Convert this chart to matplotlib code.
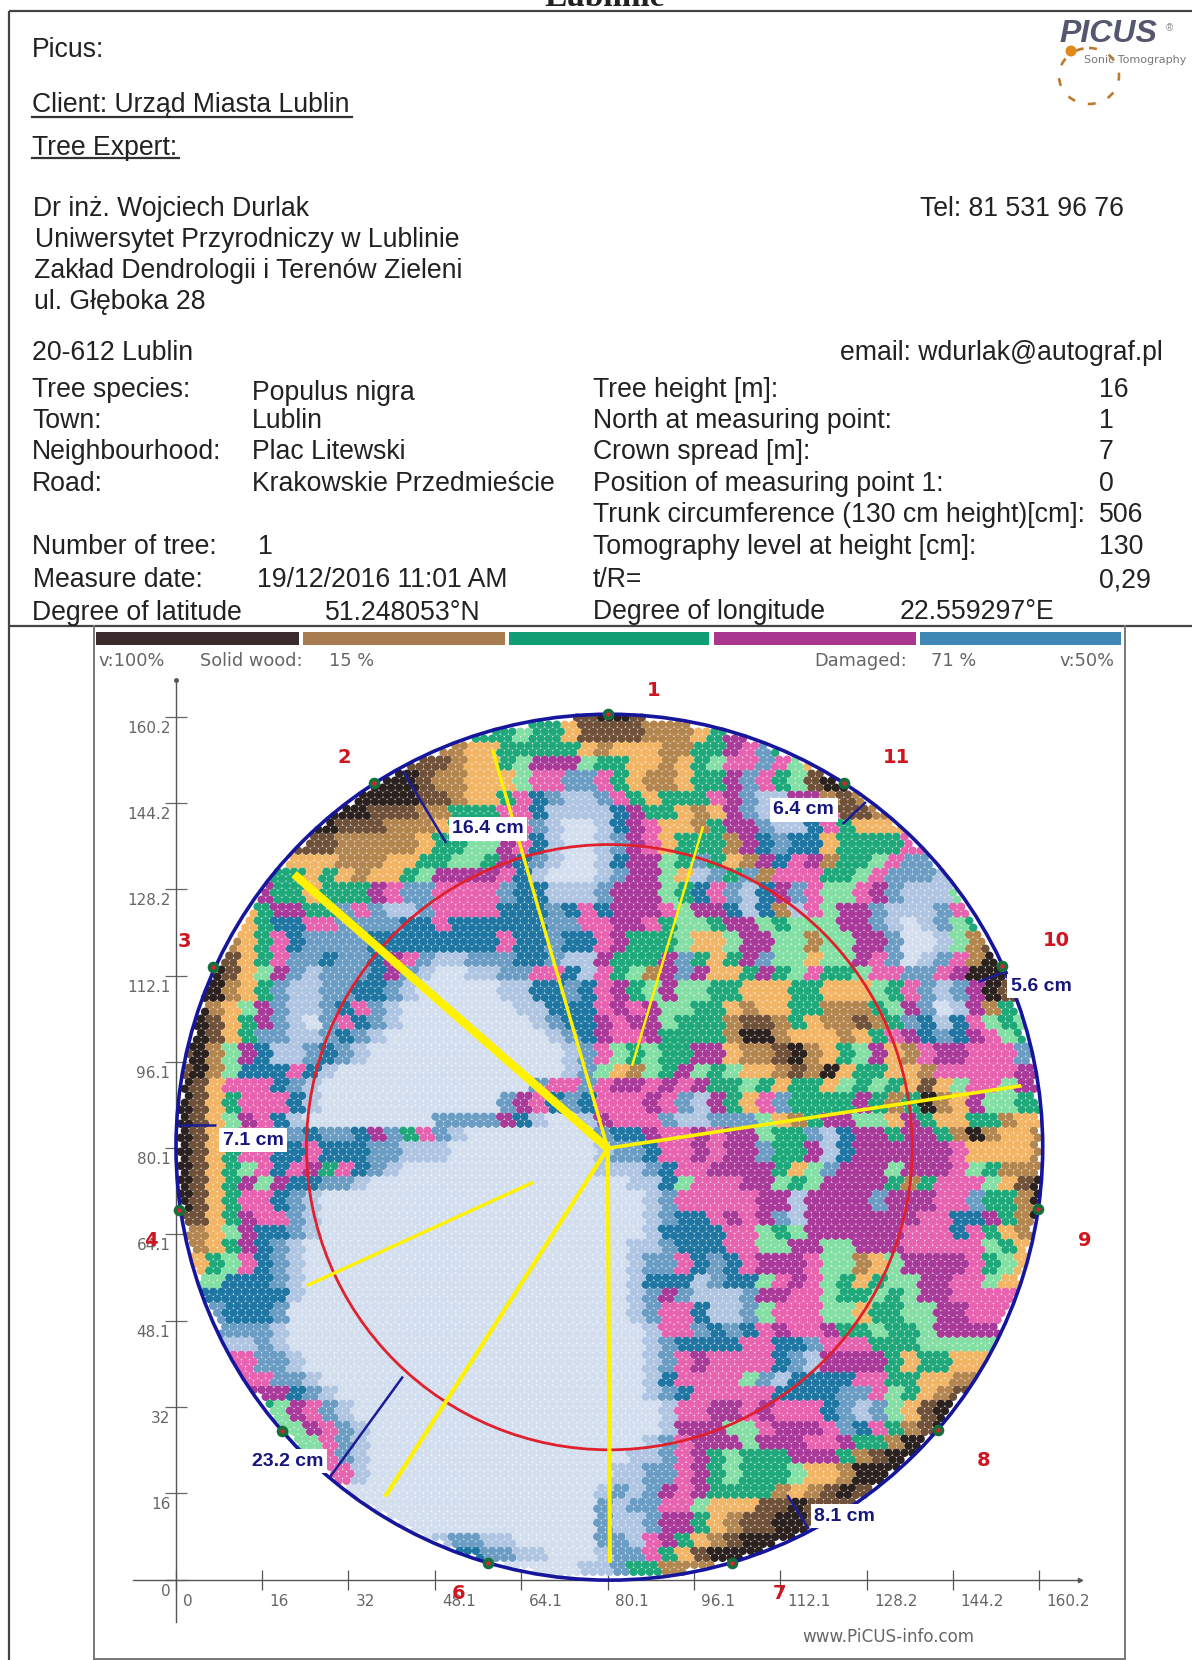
import matplotlib
matplotlib.use("Agg")
import matplotlib.pyplot as plt
import numpy as np
from matplotlib.patches import Circle, Ellipse, Rectangle
from matplotlib.transforms import ScaledTranslation

W = 1192
H = 1660

# tomogram classes, one letter per 3 x 3 unit cell, top row first
w = "w"
tomo_rows = [
    "." * 25 + "bddb",
    "." * 20 + "glggob" + "bbbtttogmm",
    "." * 17 + "toogggggo" + "tooottggmpsg",
    "." * 14 + "bbbtooglmmml" + "ggootoglppsplo",
    "." * 12 + "dddbttooolppss" + "pgottoggmspglbd",
    "." * 10 + "dddddbbtoogpBscc" + "spgogggpmsccmmtbt",
    "." * 9 + "dddbbbttgggppBccc" + "cBmggotomscccspbbt",
    "." * 8 + "ddbbbtttoggggpscww" + "cBmpootgmmsccBpgooo",
    "." * 8 + "bbtttttoggllmpBcww" + "csmpogggtmBsBBoggggp",
    "." * 7 + "oootttooggllgmBscww" + "cBmmlgsgotmBpmtgglpss",
    "." * 6 + "ggogotooglmmmmpBcwww" + "csmmlocsgstpppgglpsssc",
    "." * 5 + "mggogggmpsspppp" + "sBBccc" + "smmmlgBpscBmspllpmscccl",
    "." * 4 + "ogmmggspsccsppppBBBsBp" + "BmmmplmmBcBtcplmmscccspg",
    "." * 3 + "togBBppssssBBpBBBBBBssp" + "pmmpgllgmm" + "lglllmm" + "scwcslg",
    "." * 3 + "togpBssssBBBBBBBBpBBsBB" + "pmggglool" + "mmlltllmmswwcltb",
    "." * 2 + "dbogpssBssBmpsccsssBBscc" + "mgggmsgogmslloll" + "mpswcsptdd",
    "." * 2 + "dbolmscsssBmscwwccssppBc" + "pgltmsmoogmglpgglppsspmddd",
    "." + "ddtogsccssBBscwwwwwccBBsB" + "pmglmllggooogg" + "ooolgpscsmdb",
    "." + "dtolmsccsBpsc" + w * 7 + "ccBBB" + "pmpmllggotoogg" + "tttglmswcmtgo",
    "." + "dbogmscwspBsc" + w * 8 + "csBB" + "mpmmlgggtbbtgo" + "ttbtgsBcBplgl",
    "." + "dbogssccsBsc" + w * 10 + "csB" + "mppmggggtddtoo" + "otogpmBsBmplg",
    "bdtlmBccsBsc" + w * 12 + "cs" + "plglggmmottbdtoglmotpmmpppsm",
    "bdtlBBBpBc" + w * 14 + "cs" + "lotlgmlglootbtdoggootpppppmm",
    "dbopppBsc" + w * 13 + "spps" + "pmmpmpmgglgoggolglgobolpplmm",
    "dbogpppBc" + w * 11 + "smpBsB" + "pppmpscmgopsggggmgtgdtomllgg",
    "dbolmpBc" + w * 8 + "ssssmBcwwc" + "mpppsccsss" + "lotgmmllomgooggtoo",
    "dbolppssBssBmsgpsc" + w * 8 + "sBBmppmpmmlggscBmmgmmgtdtoot",
    "dbogppBBpBBBssccc" + w * 9 + "cssBppmpmmsggmcBmmmmmmpoooot",
    "dboglpBpmgpBsc" + w * 12 + "cccsBppmmmmgolsmmmlmmmplgttt",
    "dbogmlmBBssc" + w * 14 + "wwccBlpppmmlglmmmmgtgppplobd",
    "dbogppBsc" + w * 17 + "wwwcspppppmmcmmmmsmmmppsggtd",
    "bbogmppsc" + w * 17 + "wwwcsBBpmpmscmmmmmmmppBBmgtd",
    ".tolmBBsc" + w * 17 + "wwwcBBBBpplglmmmmmmpppBpgotb",
    ".togmBsc" + w * 18 + "wwccsBBBppllmmllmmmppppplgo",
    ".oglpBsc" + w * 18 + "wwcsspBsBpmmmplltolmmmmpglo",
    "..lBBBsc" + w * 18 + "wwcBBBcsBBlpmplgogllmmpplo",
    "..BBBBBc" + w * 18 + "wwcsmscccsmmpplgglglmmppp",
    "..sBBBs" + w * 19 + "wwcsppBccslppplloggllmmpp",
    "...sssc" + w * 19 + "wwwcppsBsBpmppmgglgglmmm",
    "...ccsc" + w * 19 + "wwwcsBBBBppBBspppgggllll",
    "....pssc" + w * 18 + "wwwcspmppppBscmmmmgoggoo",
    "....ppssc" + w * 17 + "wwwcBpppplscBBBBppggoot",
    ".....mmBsc" + w * 16 + "wwwcsBpppppBBBBssplgotb",
    ".....glmpsc" + w * 15 + "wwwwcppmmpmpppBscslobd",
    "......llmpsc" + w * 14 + "wwwwcmmmllpmmmpsBpgtbd",
    ".......llpsc" + w * 14 + "wwwcspmmmlmmmppmggtdd",
    "........lpsc" + w * 14 + "wwccspmglgggmmmgtbdd",
    ".........ppc" + w * 14 + "wccsspmglggg" + "lootdd",
    "." * 10 + w * 16 + "cscsmpmggggtotbdb",
    "." * 12 + w * 14 + "scsspplooobbdbb",
    "." * 13 + w * 13 + "sccsmmgotbbddb",
    "." * 15 + "wcsscc" + "wwwww" + "sscpmgotbdd",
    "." * 18 + "Bssccwww" + "csspgobdd",
    "." * 22 + "wwwc" + "csggt",
]
tomo_colors = {
    "d": "#2b2220", "b": "#6f5038", "t": "#b4864f", "o": "#f2b565",
    "g": "#1fa97b", "l": "#83dfa3", "m": "#a93a9a", "p": "#e763b0",
    "B": "#1f76a3", "s": "#6b9dc4", "c": "#afc5e2", "w": "#d3deef",
}

tick_x = [0, 16, 32, 48.1, 64.1, 80.1, 96.1, 112.1, 128.2, 144.2, 160.2]
tick_y = [0, 16, 32, 48.1, 64.1, 80.1, 96.1, 112.1, 128.2, 144.2, 160.2]

node_x = [80.1, 36.8, 6.9, 0.6, 19.6, 57.9, 103.2, 141.4, 159.9, 153.3, 123.9]
node_y = [160.7, 148.0, 113.8, 68.7, 27.6, 3.1, 3.1, 27.8, 68.9, 114.0, 148.0]

# yellow lines: x0, y0, x1, y1, width
yellow_lines = [
    (80.1, 80.1, 21.9, 131.0, 6.0),
    (80.1, 80.1, 58.7, 154.2, 2.4),
    (80.1, 80.1, 156.8, 91.7, 2.6),
    (80.1, 80.1, 80.5, 3.1, 3.0),
    (80.1, 80.1, 38.8, 15.4, 3.0),
    (66.3, 73.8, 24.3, 54.6, 2.4),
    (97.8, 139.9, 84.6, 95.4, 1.8),
]
wall_lines = [
    (42.1, 150.2, 50.1, 136.8),
    (128.0, 144.4, 123.7, 140.3),
    (154.2, 113.0, 148.9, 111.0),
    (0.4, 84.4, 7.4, 84.4),
    (28.6, 19.1, 42.1, 37.7),
    (117.4, 9.4, 113.4, 15.7),
]
wall_labels = ["16.4 cm", "6.4 cm", "5.6 cm", "7.1 cm", "23.2 cm", "8.1 cm"]
wall_label_x = [57.9, 116.5, 160.5, 14.3, 20.8, 124.1]
wall_label_y = [139.4, 143.0, 110.2, 81.6, 22.0, 11.8]

legend_starts = [96, 303, 509, 714, 920]
legend_ends = [299, 505, 709, 916, 1121]
legend_colors = ["#3a2c2c", "#a87c4f", "#0f9e74", "#a9368f", "#3f88b5"]

# red measuring point numbers in page pixels
point_text = ["1", "2", "3", "4", "6", "7", "8", "9", "10", "11"]
point_px = [654, 344, 184, 151, 459, 779, 984, 1085, 1056, 896]
point_py = [690, 757, 941, 1240, 1593, 1593, 1460, 1240, 940, 757]

left_labels = ["Tree species:", "Town:", "Neighbourhood:", "Road:"]
left_values = ["Populus nigra", "Lublin", "Plac Litewski", "Krakowskie Przedmieście"]
left_label_y = [388, 419, 450, 482]
left_value_y = [391, 419, 450, 482]
right_labels = ["Tree height [m]:", "North at measuring point:", "Crown spread [m]:",
                "Position of measuring point 1:", "Trunk circumference (130 cm height)[cm]:",
                "Tomography level at height [cm]:", "t/R="]
right_values = ["16", "1", "7", "0", "506", "130", "0,29"]
right_y = [388, 419, 450, 482, 513, 545, 578]

plt.rcParams["font.family"] = ["Liberation Sans", "DejaVu Sans"]
fig = plt.figure(figsize=(W / 100, H / 100), dpi=100)

# page layer, in pixels
page = fig.add_axes([0, 0, 1, 1])
page.set_xlim(0, W)
page.set_ylim(H, 0)
page.axis("off")

down2 = page.transData + ScaledTranslation(0, -0.02, fig.dpi_scale_trans)
txt = dict(fontsize=19.2, va="center", color="#222222", transform=down2)
page.text(605, 6, "Lublinie", fontsize=24, fontweight="bold", family="Liberation Serif",
          ha="center", va="baseline", color="#222222")
page.text(32, 48, "Picus:", **txt)
page.text(32, 103, "Client: Urząd Miasta Lublin", **txt)
page.text(32, 146, "Tree Expert:", **txt)
page.plot([32, 352], [117, 117], color="#333333", lw=1.6)
page.plot([32, 179], [158, 158], color="#333333", lw=1.6)
page.text(33, 207, "Dr inż. Wojciech Durlak", **txt)
page.text(35, 238, "Uniwersytet Przyrodniczy w Lublinie", **txt)
page.text(34, 269, "Zakład Dendrologii i Terenów Zieleni", **txt)
page.text(34, 300, "ul. Głęboka 28", **txt)
page.text(32, 351, "20-612 Lublin", **txt)
page.text(920, 207, "Tel: 81 531 96 76", **txt)
page.text(840, 351, "email: wdurlak@autograf.pl", **txt)

for lab, val, ly, vy in zip(left_labels, left_values, left_label_y, left_value_y):
    page.text(32, ly, lab, **txt)
    page.text(252, vy, val, **txt)
page.text(32, 545, "Number of tree:", **txt)
page.text(258, 545, "1", **txt)
page.text(33, 578, "Measure date:", **txt)
page.text(257, 578, "19/12/2016 11:01 AM", **txt)
page.text(32, 611, "Degree of latitude", **txt)
page.text(325, 611, "51.248053°N", **txt)

for lab, val, y in zip(right_labels, right_values, right_y):
    page.text(593, y, lab, **txt)
    page.text(1099, y, val, **txt)
page.text(593, 610, "Degree of longitude", **txt)
page.text(900, 610, "22.559297°E", **txt)

# logo
page.text(1059, 34, "PICUS", fontsize=23, fontweight="bold", style="italic", va="center", color="#55566f")
page.text(1169, 28, "®", fontsize=7, ha="center", va="center", color="#888888")
page.text(1084, 60, "Sonic Tomography", fontsize=8, va="center", color="#777777", family="DejaVu Sans")
page.add_patch(Ellipse((1089, 76), 60, 56, fill=False, ec="#bd7a2e", lw=1.9, ls=(0, (3, 5))))
page.add_patch(Circle((1071, 51), 5.5, fc="#e08a1e", ec="none"))

# frames
frame = dict(color="#444444", lw=1.6, solid_capstyle="butt")
page.plot([9, W], [11, 11], **frame)
page.plot([9, 9], [11, H], **frame)
page.plot([9, W], [626, 626], **frame)
page.plot([94, 94], [626, 1659], color="#777777", lw=1.4)
page.plot([1125, 1125], [626, 1659], color="#777777", lw=1.4)
page.plot([94, 1125], [1659, 1659], color="#777777", lw=1.4)

for x0, x1, c in zip(legend_starts, legend_ends, legend_colors):
    page.add_patch(Rectangle((x0, 632), x1 - x0, 13, fc=c, ec="none"))

gray = dict(fontsize=12.8, va="center", color="#666666", family="DejaVu Sans")
page.text(98, 661, "v:100%", **gray)
page.text(200, 661, "Solid wood:", **gray)
page.text(329, 661, "15 %", **gray)
page.text(814, 661, "Damaged:", **gray)
page.text(931, 661, "71 %", **gray)
page.text(1059, 661, "v:50%", **gray)
page.text(802, 1637, "www.PiCUS-info.com", fontsize=12.1, va="center", color="#666666", family="DejaVu Sans")

# tomogram axes: pixel box chosen so one unit is about 5.39 px
left, right, bottom, top = 133, 1080, 1622, 680
ax = fig.add_axes([left / W, 1 - bottom / H, (right - left) / W, (bottom - top) / H])
ax.set_xlim((left - 176) / 5.39, (right - 176) / 5.39)
ax.set_ylim((1579.6 - bottom) / 5.385, (1579.6 - top) / 5.385)
ax.patch.set_alpha(0)

for s in ["top", "right"]:
    ax.spines[s].set_visible(False)
for s in ["left", "bottom"]:
    ax.spines[s].set_position(("data", 0))
    ax.spines[s].set_color("#555555")
    ax.spines[s].set_linewidth(1.0)
    ax.spines[s].set_linestyle((0, (2, 1)))
ax.plot(1, 0, ">", color="#555555", ms=3, transform=ax.get_yaxis_transform(), clip_on=False)
ax.plot(0, 1, "o", color="#555555", ms=2.5, transform=ax.get_xaxis_transform(), clip_on=False)

ax.set_xticks(tick_x)
ax.set_xticklabels([str(t) for t in tick_x])
ax.set_yticks(tick_y)
ax.set_yticklabels([str(t) for t in tick_y])
ax.tick_params(axis="x", direction="inout", length=15, width=0.9, color="#555555",
               labelsize=11, labelcolor="#666666", pad=3)
ax.tick_params(axis="y", direction="inout", length=16, width=0.9, color="#666666",
               labelsize=11, labelcolor="#666666", pad=-4)
for lab in ax.get_xticklabels():
    lab.set_family("DejaVu Sans")
    lab.set_horizontalalignment("left")
    lab.set_transform(lab.get_transform() + ScaledTranslation(0.07, 0, fig.dpi_scale_trans))
for lab in ax.get_yticklabels():
    lab.set_family("DejaVu Sans")
    lab.set_transform(lab.get_transform() + ScaledTranslation(0, -0.10, fig.dpi_scale_trans))

# hexagonal dots, coloured from the class rows
cx, cy, radius = 80.4, 80.3, 80.0
dx, dy = 1.5, 1.3
xs, ys, cs = [], [], []
n_rows = int(160.7 / dy) + 2
for k in range(n_rows):
    y = cy + 80.4 - 0.5 * dy - k * dy
    shift = 0.5 * dx if k % 2 else 0.0
    for x in np.arange(cx - 81 + shift, cx + 81, dx):
        if (x - cx) ** 2 + (y - cy) ** 2 > radius ** 2:
            continue
        row = tomo_rows[min(max(int((162 - y) / 3), 0), len(tomo_rows) - 1)].ljust(54, ".")
        col = min(max(int(x / 3), 0), 53)
        ch = row[col]
        if ch == ".":
            filled = [i for i, c in enumerate(row) if c != "."]
            ch = row[min(filled, key=lambda i: abs(i - col))]
        xs.append(x)
        ys.append(y)
        cs.append(tomo_colors[ch])
ax.scatter(xs, ys, s=37, c=cs, linewidths=0, zorder=2, clip_on=False)

ax.add_patch(Circle((80.4, 80.3), 56.2, fill=False, ec="#e0202c", lw=2.0, zorder=3))
ax.add_patch(Circle((80.4, 80.3), 80.4, fill=False, ec="#16169c", lw=2.6, zorder=3, clip_on=False))

for x0, y0, x1, y1, lw in yellow_lines:
    ax.plot([x0, x1], [y0, y1], color="#fff200", lw=lw, solid_capstyle="butt", zorder=4)
for x0, y0, x1, y1 in wall_lines:
    ax.plot([x0, x1], [y0, y1], color="#1c1c96", lw=1.8, solid_capstyle="butt", zorder=4)
for t, x, y in zip(wall_labels, wall_label_x, wall_label_y):
    ax.text(x, y, t, fontsize=14, fontweight="bold", color="#16167e", ha="center", va="center",
            zorder=5, bbox=dict(fc="white", ec="none", pad=2.5))

ax.scatter(node_x, node_y, s=70, c="#13703c", linewidths=0, zorder=6, clip_on=False)
ax.scatter(node_x, node_y, s=10, c="#e0202c", linewidths=0, zorder=7, clip_on=False)

# numbers go on top of everything
top_layer = fig.add_axes([0, 0, 1, 1])
top_layer.set_xlim(0, W)
top_layer.set_ylim(H, 0)
top_layer.axis("off")
for t, x, y in zip(point_text, point_px, point_py):
    top_layer.text(x, y, t, fontsize=14, fontweight="bold", color="#cf1620", ha="center", va="center",
                   family="DejaVu Sans")

fig.savefig("out.png", dpi=100)
